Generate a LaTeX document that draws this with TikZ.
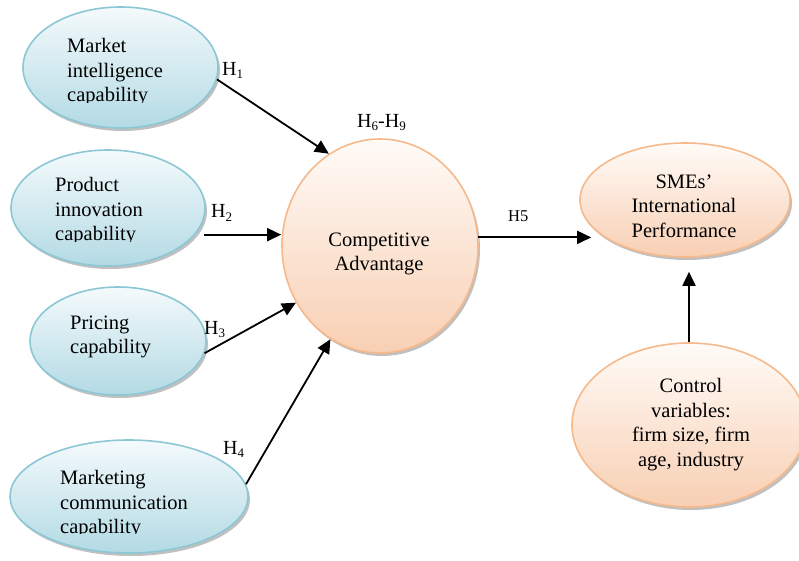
\documentclass[tikz,border=0pt]{standalone}
\usepackage{fontspec}
\setmainfont{Liberation Serif}
\usetikzlibrary{shapes.geometric,shadows,arrows.meta}
\definecolor{bluetop}{HTML}{F4FAFC}
\definecolor{bluebot}{HTML}{B3DAE4}
\definecolor{blueline}{HTML}{8CC7D5}
\definecolor{orgtop}{HTML}{FFFBF8}
\definecolor{orgbot}{HTML}{F8CFB3}
\definecolor{orgline}{HTML}{F5B98C}
\newcommand{\hsb}[1]{\raisebox{-3pt}{\fontsize{13}{13}\selectfont #1}}
\tikzset{
  ellbase/.style={ellipse, inner sep=0pt, line width=1.6pt,
    drop shadow={shadow xshift=2pt, shadow yshift=-3pt, opacity=0.45, fill=black!55}},
  blueell/.style={ellbase, draw=blueline, top color=bluetop, bottom color=bluebot},
  orgell/.style={ellbase, draw=orgline, top color=orgtop, bottom color=orgbot},
  lbl/.style={font=\fontsize{20.5}{24.5}\selectfont, inner sep=0pt},
  hlbl/.style={font=\fontsize{20}{20}\selectfont, inner sep=0pt, anchor=base west},
  arr/.style={line width=1.8pt, -{Triangle[length=14pt,width=13pt]}}
}
\begin{document}
\begin{tikzpicture}[x=1pt,y=-1pt]
\useasboundingbox (0,0) rectangle (799,561);
% ellipses
\node[blueell, minimum width=195pt, minimum height=121pt] (e1) at (120.5,67.5) {};
\node[blueell, minimum width=194pt, minimum height=116pt] (e2) at (108,208) {};
\node[blueell, minimum width=176pt, minimum height=108pt] (e3) at (118,341) {};
\node[blueell, minimum width=238pt, minimum height=113pt] (e4) at (129,496.5) {};
\node[orgell, minimum width=196pt, minimum height=214pt] (ca) at (380,246) {};
\node[orgell, minimum width=210pt, minimum height=114pt] (sme) at (685,200) {};
\node[orgell, minimum width=234pt, minimum height=164pt] (ctrl) at (689,425) {};
% texts
\begin{scope}
\clip (40,20) rectangle (200,103);
\node[lbl, align=left, anchor=north west] (t1) at (67,38.5) {Market\\intelligence\\capability};
\end{scope}
\begin{scope}
\clip (40,160) rectangle (200,241);
\node[lbl, align=left, anchor=north west] (t2) at (55,177.5) {Product\\innovation\\capability};
\end{scope}
\node[lbl, align=left, anchor=north west] (t3) at (70,315.5) {Pricing\\capability};
\begin{scope}
\clip (40,455) rectangle (240,533);
\node[lbl, align=left, anchor=north west] (t4) at (60,470.5) {Marketing\\communication\\capability};
\end{scope}
\node[lbl, align=center, anchor=north] (t5) at (379,232.5) {Competitive\\Advantage};
\node[lbl, align=center, anchor=north] (t6) at (684,174.5) {SMEs’\\International\\Performance};
\node[lbl, align=center, anchor=north] (t7) at (691,378.5) {Control\\variables:\\firm size, firm\\age, industry};
% hypothesis labels
\node[hlbl] (h1) at (222,76) {H\hsb{1}};
\node[hlbl] (h2) at (211,218) {H\hsb{2}};
\node[hlbl] (h3) at (204,334) {H\hsb{3}};
\node[hlbl] (h4) at (223,454) {H\hsb{4}};
\node[hlbl] (h69) at (357,128) {H\hsb{6}-H\hsb{9}};
\node[hlbl, font=\fontsize{16.5}{16.5}\selectfont] (h5) at (508,221) {H5};
% connectors
\draw[arr] (e1.-7) -- (ca.119);
\draw[arr, shorten <=9pt] (e2.-17) -- (e2.-17 -| ca.west);
\draw[arr] (e3.-8) -- (ca.214);
\draw[arr] (e4.6) -- (ca.242);
\draw[arr, shorten >=-12pt] (ca.5) -- (ca.5 -| sme.west);
\draw[arr, shorten >=14pt] (ctrl.north) -- (ctrl.north |- sme.south);
\end{tikzpicture}
\end{document}
